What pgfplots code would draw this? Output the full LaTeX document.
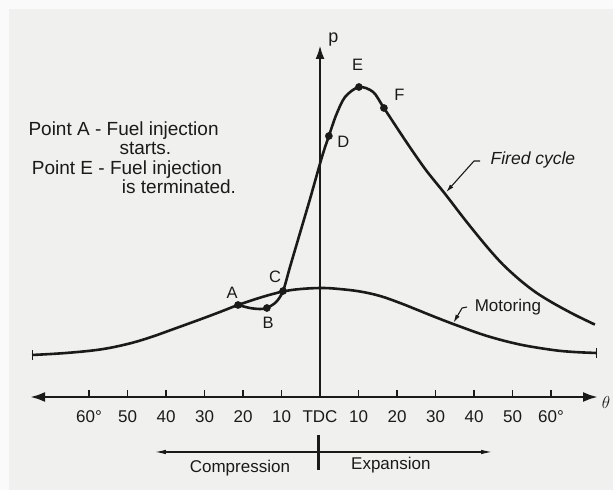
\documentclass[border=0pt]{standalone}
\usepackage{fontspec}
\setmainfont{Liberation Sans}
\usepackage{pgfplots}
\pgfplotsset{compat=1.18}
\usetikzlibrary{arrows.meta}
\definecolor{ink}{HTML}{1A1A1A}
\definecolor{bgout}{HTML}{FAFAFA}
\definecolor{bgin}{HTML}{F0F0EE}
\begin{document}
\begin{tikzpicture}
\begin{axis}[
  scale only axis, width=568pt, height=352pt,
  xmin=-75.32, xmax=72.21, ymin=0, ymax=352,
  axis lines=middle, axis on top,
  clip=false,
  axis line style={line width=2.6pt, draw=ink},
  x axis line style={{Latex[length=15pt,width=10pt]}-{Latex[length=15pt,width=10pt]}},
  y axis line style={-{Latex[length=14pt,width=9pt]}},
  xtick={-60,-50,...,60},
  xticklabels={60°,50,40,30,20,10,TDC,10,20,30,40,50,60°},
  ytick=\empty,
  hide obscured x ticks=false,
  xtick align=inside,
  major tick length=7pt,
  every tick/.style={draw=ink, line width=1.2pt},
  xticklabel style={anchor=base, yshift=-26pt, font=\fontsize{17}{18}\selectfont, text=ink},
]
% background
\addplot[fill=bgout, draw=none] coordinates {(-83.12,-93) (76.10,-93) (76.10,397) (-83.12,397)} -- cycle;
\addplot[fill=bgin, draw=none] coordinates {(-80.78,-93) (76.10,-93) (76.10,388) (-80.78,388)} -- cycle;

% Motoring
\addplot[draw=ink, line width=2.6pt, smooth, tension=0.6] coordinates {
(-74.8,42) (-66,44) (-57.1,47.5) (-50,53) (-44.2,59.5) (-38,68) (-31.2,77.5)
(-26,85) (-21.3,92) (-15,100) (-9.6,105.5) (-5,108) (0.5,109)
(5,108) (10.4,105.5) (15.6,101) (20.8,94) (26,86) (31.2,78) (36,71)
(43.4,61) (51.9,52.5) (60.5,47) (66,45) (71.9,44)};
\addplot[draw=ink, line width=1pt] coordinates {(-74.8,37) (-74.8,47)};
\addplot[draw=ink, line width=1pt] coordinates {(71.9,39) (71.9,49)};

% Fired cycle
\addplot[draw=ink, line width=2.6pt, smooth, tension=0.5] coordinates {
(-21.3,92) (-18.2,89) (-15.6,88) (-13.8,89) (-11.4,95) (-9.6,106)
(-7.8,130) (-5.2,164) (-2.6,198) (0.5,240) (2.3,261) (4.2,282) (6.5,300)
(10.1,310) (13.8,305) (16.6,289) (22.6,254) (27.5,227) (32.5,203)
(37.9,176) (43.4,150) (47.5,132.5) (51.9,117) (56.1,104.5) (60.5,94)
(66.0,82.5) (71.4,72.4)};

% points A-F
\addplot[only marks, mark=*, mark size=3.6pt, ink, mark options={fill=ink, draw=ink}] coordinates {
(-21.3,92) (-13.8,89) (-9.6,106) (2.3,261) (10.1,310) (16.6,289)};

% leaders
\addplot[draw=ink, line width=1.1pt, -{Latex[length=8pt,width=4.5pt]}] coordinates {(41.6,236) (40.0,236) (32.8,205)};
\addplot[draw=ink, line width=1.1pt, -{Latex[length=8pt,width=4.5pt]}] coordinates {(38.2,90) (36.9,89) (34.7,74.5)};

% compression / expansion
\addplot[draw=ink, line width=1.2pt, {Latex[length=11pt,width=4.5pt]}-{Latex[length=11pt,width=4.5pt]}] coordinates {(-42.9,-55) (44.7,-55)};
\addplot[draw=ink, line width=2.2pt] coordinates {(-0.4,-38) (-0.4,-73)};

\begin{scope}[every node/.style={text=ink, font=\fontsize{16.5}{18}\selectfont, inner sep=0pt}]
\node at (axis cs:-22.8,103.7) {A};
\node at (axis cs:-13.5,74) {B};
\node at (axis cs:-11.7,120.3) {C};
\node at (axis cs:6.05,255.3) {D};
\node at (axis cs:9.8,332) {E};
\node at (axis cs:20.6,302) {F};
\end{scope}
\node[text=ink, font=\fontsize{18}{18}\selectfont, inner sep=0pt] at (axis cs:3.5,357) {p};
\node[text=ink, font=\fontsize{18}{18}\selectfont, inner sep=0pt] at (axis cs:74.3,-6) {$\theta$};
\node[text=ink, font=\fontsize{17.5}{18}\selectfont\itshape, inner sep=0pt] at (axis cs:55.3,237) {Fired cycle};
\node[text=ink, font=\fontsize{17}{18}\selectfont, inner sep=0pt] at (axis cs:48.8,90) {Motoring};
\node[text=ink, font=\fontsize{17}{18}\selectfont, inner sep=0pt] at (axis cs:-20.8,-71) {Compression};
\node[text=ink, font=\fontsize{17}{18}\selectfont, inner sep=0pt] at (axis cs:18.4,-68) {Expansion};

\begin{scope}[every node/.style={text=ink, font=\fontsize{19}{19}\selectfont, inner sep=0pt, anchor=base west}]
\node at (axis cs:-75.76,261) {Point A - Fuel injection};
\node at (axis cs:-52.13,242.3) {starts.};
\node at (axis cs:-74.88,222.7) {Point E - Fuel injection};
\node at (axis cs:-51.5,203.7) {is terminated.};
\end{scope}
\end{axis}
\end{tikzpicture}
\end{document}
